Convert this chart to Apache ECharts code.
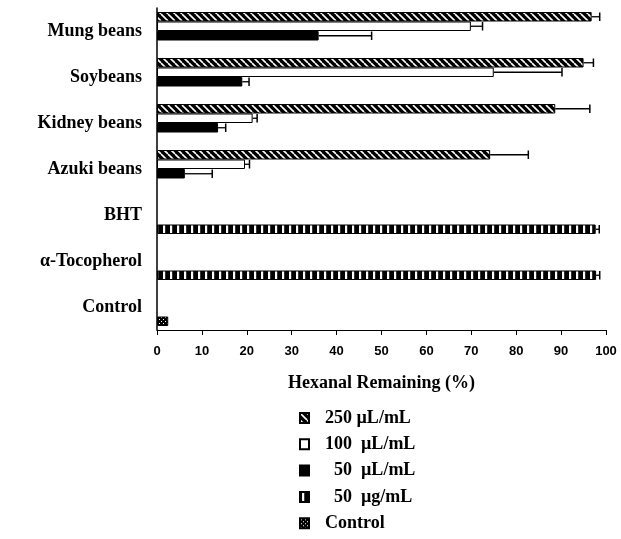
<!DOCTYPE html>
<html>
<head>
<meta charset="utf-8">
<script src="https://cdn.jsdelivr.net/npm/echarts@6/dist/echarts.min.js"></script>
<style>
html,body{margin:0;padding:0;background:#fff;}
#chart{width:621px;height:539px;}
</style>
</head>
<body>
<div id="chart"></div>
<script>
// ---- data ----
var categories = ['Mung beans', 'Soybeans', 'Kidney beans', 'Azuki beans', 'BHT', '\u03B1-Tocopherol', 'Control'];
var seriesNames = ['250 \u00B5L/mL', '100 \u00B5L/mL', '50 \u00B5L/mL', '50 \u00B5g/mL', 'Control'];
var legendLabels = ['250 \u00B5L/mL', '100  \u00B5L/mL', '  50  \u00B5L/mL', '  50  \u00B5g/mL', 'Control'];
var v250 = [96.8, 95.0, 88.7, 74.2, null, null, null];
var e250 = [1.8, 2.2, 7.7, 8.5, null, null, null];
var v100 = [69.9, 75.0, 21.3, 19.6, null, null, null];
var e100 = [2.6, 15.2, 1.0, 1.0, null, null, null];
var v50 = [36.0, 19.0, 13.6, 6.2, null, null, null];
var e50 = [11.8, 1.5, 1.7, 6.1, null, null, null];
var vStd = [null, null, null, null, 97.7, 97.8, null];
var eStd = [null, null, null, null, 0.8, 0.8, null];
var vControl = [null, null, null, null, null, null, 2.5];
var xTicks = [0, 10, 20, 30, 40, 50, 60, 70, 80, 90, 100];

// ---- patterns ----
function makeCanvas(w, h, draw) {
  var c = document.createElement('canvas');
  c.width = w; c.height = h;
  var ctx = c.getContext('2d');
  draw(ctx, w, h);
  return c;
}
var hatch = makeCanvas(7, 7, function (ctx, w, h) {
  ctx.fillStyle = '#000'; ctx.fillRect(0, 0, w, h);
  ctx.strokeStyle = '#fff'; ctx.lineWidth = 1.6;
  for (var k = -1; k <= 1; k++) {
    ctx.beginPath(); ctx.moveTo(k * w, 0); ctx.lineTo(k * w + w, h); ctx.stroke();
  }
});
var vstripe = makeCanvas(7, 4, function (ctx, w, h) {
  ctx.fillStyle = '#000'; ctx.fillRect(0, 0, w, h);
  ctx.fillStyle = '#fff'; ctx.fillRect(2, 0, 2.2, h);
});
var grid4 = makeCanvas(4, 4, function (ctx, w, h) {
  ctx.fillStyle = '#000'; ctx.fillRect(0, 0, w, h);
  ctx.fillStyle = '#fff'; ctx.fillRect(1, 1, 1, 1); ctx.fillRect(3, 3, 1, 1);
});
var fills = [
  { image: hatch, repeat: 'repeat' },
  '#ffffff',
  '#000000',
  { image: vstripe, repeat: 'repeat' },
  { image: grid4, repeat: 'repeat' }
];

var BW = 9.5;      // bar thickness in px
var SLOTS = 4;
function slotOffset(slot) { return -SLOTS * BW / 2 + slot * BW + BW / 2; }

function errData(vals, errs) {
  var out = [];
  for (var i = 0; i < vals.length; i++) {
    if (vals[i] != null && errs[i] != null) out.push([vals[i], errs[i], i]);
  }
  return out;
}
function errSeries(vals, errs, slot) {
  return {
    type: 'custom',
    coordinateSystem: 'cartesian2d',
    xAxisIndex: 0, yAxisIndex: 0,
    encode: { x: 0, y: 2 },
    z: 5,
    silent: true,
    data: errData(vals, errs),
    renderItem: function (params, api) {
      var v = api.value(0), e = api.value(1), c = api.value(2);
      var p0 = api.coord([v, c]);
      var p1 = api.coord([v + e, c]);
      var y = p0[1] + slotOffset(slot);
      var half = BW / 2 - 0.5;
      return {
        type: 'group',
        children: [
          { type: 'line', shape: { x1: p0[0], y1: y, x2: p1[0], y2: y }, style: { stroke: '#000', lineWidth: 1.3 } },
          { type: 'line', shape: { x1: p1[0], y1: y - half, x2: p1[0], y2: y + half }, style: { stroke: '#000', lineWidth: 1.5 } }
        ]
      };
    }
  };
}

function bar(name, data, fill, stack) {
  var s = { type: 'bar', name: name, data: data, barWidth: BW, barGap: '0%',
    itemStyle: { color: fill, borderColor: '#000', borderWidth: 1 } };
  if (stack) s.stack = stack;
  return s;
}

var serif = "'Liberation Serif', 'Times New Roman', serif";
var labelMap = {};
seriesNames.forEach(function (n, i) { labelMap[n] = legendLabels[i]; });

var chart = echarts.init(document.getElementById('chart'), null, { renderer: 'canvas' });
chart.setOption({
  animation: false,
  backgroundColor: '#ffffff',
  grid: { left: 157, right: 15, top: 8, height: 322, containLabel: false },
  xAxis: {
    type: 'value', min: 0, max: 100, interval: 10,
    name: 'Hexanal Remaining (%)', nameLocation: 'middle', nameGap: 44,
    nameTextStyle: { fontFamily: serif, fontWeight: 'bold', fontSize: 18, color: '#000' },
    axisLine: { show: true, lineStyle: { color: '#000', width: 1 } },
    axisTick: { show: true, length: 5, lineStyle: { color: '#000' } },
    axisLabel: { fontFamily: "'Liberation Sans', Arial, sans-serif", fontWeight: 'bold', fontSize: 13, color: '#000', margin: 15,
      formatter: function (v) { return xTicks.indexOf(v) >= 0 ? String(v) : ''; } },
    splitLine: { show: false }
  },
  yAxis: {
    type: 'category', inverse: true, data: categories,
    axisLine: { show: true, lineStyle: { color: '#000', width: 1.5 } },
    axisTick: { show: false },
    axisLabel: { fontFamily: serif, fontWeight: 'bold', fontSize: 18, color: '#000', margin: 15, padding: [4, 0, 0, 0] },
    splitLine: { show: false }
  },
  legend: {
    orient: 'vertical', left: 294, top: 404,
    itemWidth: 9, itemHeight: 10, itemGap: 8.3,
    icon: 'rect',
    data: seriesNames,
    formatter: function (n) { return labelMap[n]; },
    textStyle: { fontFamily: serif, fontWeight: 'bold', fontSize: 18, lineHeight: 18, color: '#000', padding: [0, 0, 0, 11] }
  },
  series: [
    bar(seriesNames[0], v250, fills[0]),
    bar(seriesNames[1], v100, fills[1]),
    bar(seriesNames[2], v50, fills[2]),
    bar(seriesNames[3], vStd, fills[3], 'std'),
    bar(seriesNames[4], vControl, fills[4], 'std'),
    errSeries(v250, e250, 0),
    errSeries(v100, e100, 1),
    errSeries(v50, e50, 2),
    errSeries(vStd, eStd, 3)
  ]
});
</script>
</body>
</html>
